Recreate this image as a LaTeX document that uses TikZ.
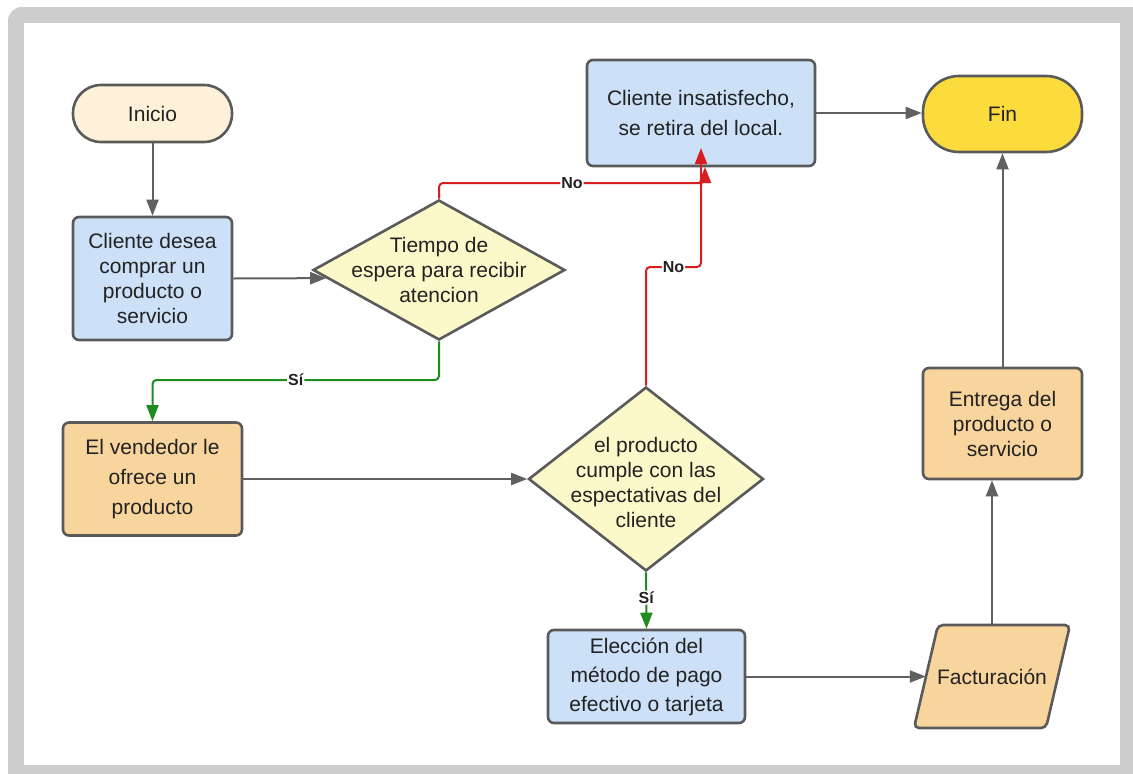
\documentclass[tikz,border=0pt]{standalone}
\usepackage{fontspec}
\setmainfont{Liberation Sans}
\usetikzlibrary{shapes.geometric,arrows.meta,calc}
\definecolor{frame}{HTML}{CDCDCD}
\definecolor{bd}{HTML}{5A5A5A}
\definecolor{txt}{HTML}{222222}
\definecolor{bluef}{HTML}{CCE0F8}
\definecolor{diaf}{HTML}{FBF8C9}
\definecolor{orf}{HTML}{F9D59E}
\definecolor{inif}{HTML}{FDF1DA}
\definecolor{finf}{HTML}{FCDC3D}
\definecolor{ln}{HTML}{606060}
\definecolor{rd}{HTML}{D81E1E}
\definecolor{gn}{HTML}{1E8C1E}
\newcommand\fsA{\fontsize{21}{25}\selectfont}
\newcommand\fsB{\fontsize{21}{30}\selectfont}
\begin{document}
\begin{tikzpicture}[x=1pt,y=-1pt,
  shp/.style={draw=bd, line width=2.6pt, align=center, text=txt, inner sep=0pt, font=\fsA},
  box/.style={shp, rectangle, rounded corners=6pt},
  term/.style={shp, rectangle, rounded corners=28pt},
  dia/.style={shp, diamond, fill=diaf},
  dtext/.style={align=center, text=txt, inner sep=0pt, font=\fsA},
  conn/.style={draw=ln, line width=2pt, -{Triangle[length=16pt,width=12pt]}},
  rconn/.style={draw=rd, line width=2pt, rounded corners=4pt, -{Triangle[length=16pt,width=12pt]}},
  gconn/.style={draw=gn, line width=2pt, rounded corners=4pt, -{Triangle[length=16pt,width=12pt]}},
  lab/.style={fill=white, inner sep=1pt, text=txt, font=\fontsize{16}{18}\selectfont\bfseries}
]
\useasboundingbox (0,0) rectangle (1133,774);
% frame
\fill[frame, rounded corners=14pt] (8,7) rectangle (1150,790);
\fill[white] (24,23) rectangle (1120,765);

% nodes
\node[term, fill=inif, minimum width=159pt, minimum height=57pt] (ini) at (152.5,113.5) {Inicio};
\node[box, fill=bluef, minimum width=159pt, minimum height=123pt] (cd) at (152.5,278.5) {Cliente desea\\comprar un\\producto o\\servicio};
\node[dia, minimum width=252pt, minimum height=140pt] (d1) at (439,270) {};
\node[dtext] (d1t) at (d1.center) {Tiempo de\\espera para recibir\\atencion};
\node[box, fill=bluef, minimum width=228pt, minimum height=106pt, font=\fsB] (ins) at (701,113) {Cliente insatisfecho,\\se retira del local.};
\node[term, fill=finf, minimum width=159pt, minimum height=76pt, rounded corners=36pt] (fin) at (1002.5,114) {Fin};
\node[box, fill=orf, minimum width=179pt, minimum height=113pt, font=\fsB] (ven) at (152.5,479) {El vendedor le\\ofrece un\\producto};
\node[dia, minimum width=235pt, minimum height=184pt] (d2) at (646,479) {};
\node[dtext] (d2t) at ($(d2.center)+(0,3)$) {el producto\\cumple con las\\espectativas del\\cliente};
\node[box, fill=bluef, minimum width=197pt, minimum height=93pt, font=\fontsize{21}{29}\selectfont] (ele) at (646.5,676.5) {Elección del\\método de pago\\efectivo o tarjeta};
\node[box, fill=orf, minimum width=159pt, minimum height=111pt] (ent) at (1002.5,423.5) {Entrega del\\producto o\\servicio};
% parallelogram
\coordinate (facc) at (992,676.5);
\draw[draw=bd, line width=2.6pt, fill=orf, rounded corners=5pt]
  ($(facc)+(-54,-51.5)$) -- ($(facc)+(78,-51.5)$) -- ($(facc)+(54,51.5)$) -- ($(facc)+(-78,51.5)$) -- cycle;
\node[dtext, minimum width=132pt, minimum height=103pt] (fac) at (facc) {Facturación};

% helper coordinates
\coordinate (r1) at (705,183);
\coordinate (r1t) at (705,167);
\coordinate (r2) at (701,267);
\coordinate (r2t) at (701,148);
\coordinate (g1) at (439,380);

% connectors
\draw[conn] (ini.south) -- (cd.north);
\draw[conn] (cd.east) -- ($(d1.west)!0.114!(d1.south)$);
\draw[conn] (ins.east) -- (ins.east -| fin.west);
\draw[conn] (ven.east) -- (ven.east -| d2.west);
\draw[conn] (ele.east) -- (ele.east -| fac.west);
\draw[conn] (fac.north) -- (fac.north |- ent.south);
\draw[conn] (ent.north) -- (fin.south);
\draw[gconn] (d1.south) -- (g1) -- node[lab, pos=0.5] {Sí} (g1 -| ven.north) -- (ven.north);
\draw[gconn] (d2.south) -- node[lab, pos=0.45] {Sí} (ele.north);
\draw[rconn] (d1.north) -- (d1.north |- r1) -- node[lab, pos=0.5] {No} (r1) -- (r1t);
\draw[rconn] (d2.north) -- (d2.north |- r2) -- node[lab, pos=0.5] {No} (r2) -- (r2t);
\end{tikzpicture}
\end{document}
